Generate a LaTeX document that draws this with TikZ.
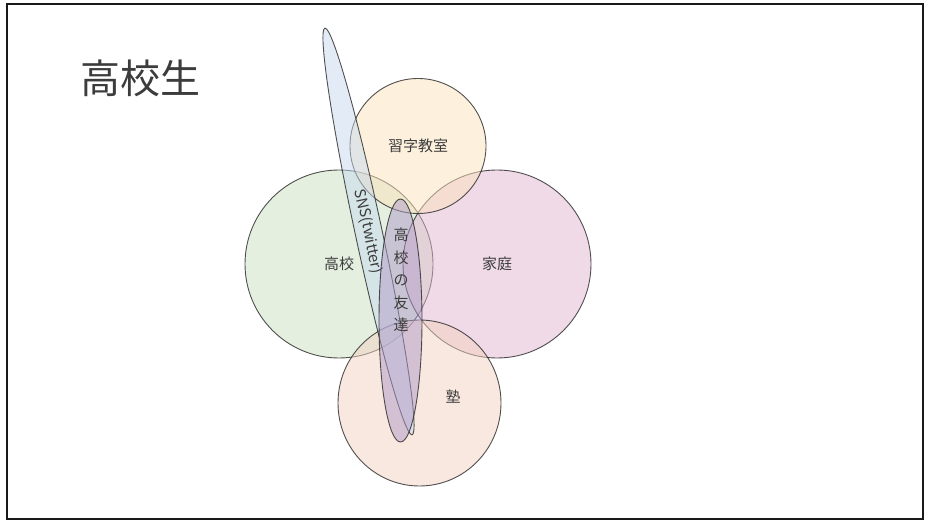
\documentclass[tikz,border=0pt]{standalone}
\usepackage{fontspec}
\setmainfont{Noto Sans CJK JP}
\usetikzlibrary{shapes.geometric}
\definecolor{cGreen}{RGB}{201,223,193}
\definecolor{cPink}{RGB}{225,181,209}
\definecolor{cYellow}{RGB}{251,227,187}
\definecolor{cPeach}{RGB}{243,209,191}
\definecolor{cBlue}{RGB}{199,217,237}
\definecolor{cPurple}{RGB}{175,155,200}
\definecolor{txt}{RGB}{60,60,60}
\tikzset{
  setbox/.style={ellipse, draw=black!85, line width=0.9pt, fill opacity=0.5, draw opacity=0.8, text opacity=1, inner sep=0pt, text=txt, font=\fontsize{15}{18}\selectfont},
  lbl/.style={text=txt, font=\fontsize{15}{18}\selectfont, inner sep=0pt}
}
\begin{document}
\begin{tikzpicture}[x=1pt,y=-1pt]
\useasboundingbox (0,0) rectangle (925,521);
\node[draw=black!90, line width=2pt, minimum width=916pt, minimum height=515pt, inner sep=0pt] (frame) at (464.75,261.25) {};
\node[text=txt, font=\fontsize{40}{44}\selectfont, inner sep=0pt] (title) at (140,78) {高校生};
\node[setbox, fill=cGreen, minimum width=188pt, minimum height=188pt] (school) at (339,264) {高校};
\node[setbox, fill=cPink, minimum width=188pt, minimum height=188pt] (home) at (497,264) {家庭};
\node[setbox, fill=cYellow, minimum width=136pt, minimum height=135pt] (shuji) at (418,146) {習字教室};
\node[setbox, fill=cPeach, minimum width=163pt, minimum height=166pt] (juku) at (419.5,403) {};
\node[lbl] (jukulbl) at (453,397) {塾};
\node[setbox, fill=cBlue, minimum width=416pt, minimum height=27pt, rotate=-77.9] (sns) at (368.5,231.5) {SNS(twitter)};
\node[setbox, fill=cPurple, minimum width=43pt, minimum height=243pt] (friends) at (400.5,320.5) {};
\node[lbl, align=center, font=\fontsize{15}{22.5}\selectfont] (friendslbl) at (401,280) {高\\校\\の\\友\\達};
\end{tikzpicture}
\end{document}
